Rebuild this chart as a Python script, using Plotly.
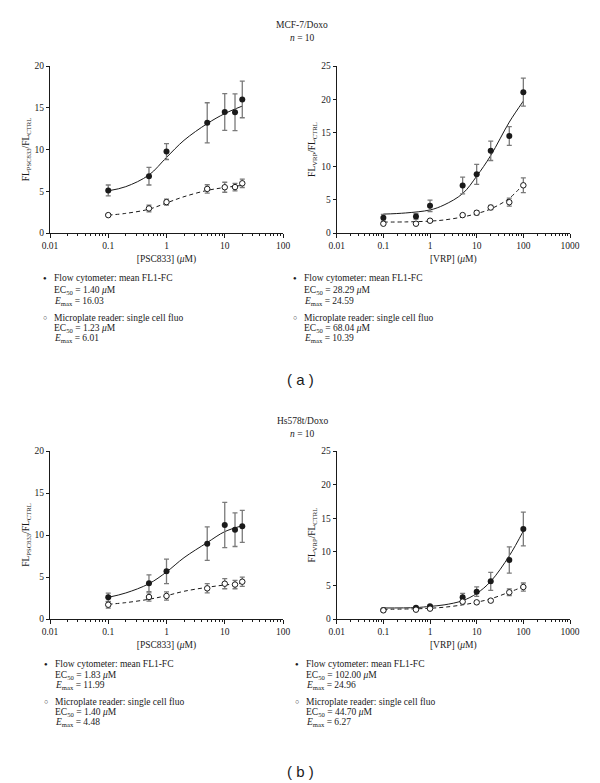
import plotly.graph_objects as go

W, H = 600, 783

# ---------------- data ----------------
psc_x = [0.1, 0.5, 1, 5, 10, 15, 20]
vrp_x = [0.1, 0.5, 1, 5, 10, 20, 50, 100]

# (a) MCF-7/Doxo, PSC833
a_psc_flow = [5.1, 6.8, 9.75, 13.2, 14.5, 14.45, 16.0]
a_psc_flow_err = [0.65, 1.05, 0.95, 2.4, 2.2, 2.2, 2.2]
a_psc_plate = [2.14, 2.94, 3.7, 5.28, 5.48, 5.5, 5.95]
a_psc_plate_err = [0.12, 0.4, 0.35, 0.5, 0.6, 0.45, 0.5]
a_psc_fit_x = [0.1, 0.2, 0.5, 1, 2, 5, 10, 20]
a_psc_flow_fit = [5.05, 5.55, 6.95, 9.05, 11.1, 13.1, 14.3, 15.2]
a_psc_plate_fit = [2.14, 2.35, 2.85, 3.6, 4.35, 5.1, 5.45, 5.7]

# (a) MCF-7/Doxo, VRP
a_vrp_flow = [2.28, 2.48, 4.07, 7.1, 8.78, 12.3, 14.53, 21.08]
a_vrp_flow_err = [0.5, 0.4, 0.85, 1.25, 1.5, 1.45, 1.4, 2.1]
a_vrp_plate = [1.39, 1.39, 1.84, 2.68, 3.03, 3.82, 4.61, 7.14]
a_vrp_plate_err = [0.1, 0.1, 0.15, 0.2, 0.3, 0.3, 0.6, 1.1]
a_vrp_fit_x = [0.1, 0.3, 1, 2, 5, 10, 20, 50, 100]
a_vrp_flow_fit = [2.83, 3.0, 3.45, 4.2, 5.9, 8.5, 11.6, 16.6, 19.75]
a_vrp_plate_fit = [1.64, 1.66, 1.78, 1.95, 2.4, 2.9, 3.6, 5.2, 7.3]

# (b) Hs578t/Doxo, PSC833
b_psc_flow = [2.58, 4.25, 5.67, 8.97, 11.19, 10.63, 11.03]
b_psc_flow_err = [0.5, 1.0, 1.45, 2.0, 2.7, 2.0, 1.9]
b_psc_plate = [1.7, 2.62, 2.74, 3.65, 4.2, 4.1, 4.44]
b_psc_plate_err = [0.4, 0.5, 0.5, 0.55, 0.6, 0.5, 0.55]
b_psc_fit_x = [0.1, 0.2, 0.5, 1, 2, 5, 10, 20]
b_psc_flow_fit = [2.58, 3.1, 4.2, 5.6, 7.3, 9.1, 10.4, 11.1]
b_psc_plate_fit = [1.75, 1.95, 2.35, 2.78, 3.3, 3.77, 4.05, 4.25]

# (b) Hs578t/Doxo, VRP
b_vrp_flow = [1.35, 1.69, 1.88, 3.22, 4.07, 5.6, 8.78, 13.39]
b_vrp_flow_err = [0.1, 0.15, 0.15, 0.6, 0.7, 1.35, 1.95, 2.5]
b_vrp_plate = [1.29, 1.39, 1.54, 2.58, 2.48, 2.73, 3.97, 4.76]
b_vrp_plate_err = [0.1, 0.1, 0.15, 0.3, 0.2, 0.2, 0.5, 0.6]
b_vrp_fit_x = [0.1, 0.5, 1, 2, 5, 10, 20, 50, 100]
b_vrp_flow_fit = [1.64, 1.7, 1.88, 2.1, 2.73, 3.8, 5.6, 9.4, 13.1]
b_vrp_plate_fit = [1.44, 1.52, 1.6, 1.75, 2.1, 2.5, 3.0, 4.0, 4.8]

legend_a_left = ["Flow cytometer: mean FL1-FC", "EC<sub>50</sub> = 1.40 <i>μ</i>M", "<i>E</i><sub>max</sub> = 16.03",
                 "Microplate reader: single cell fluo", "EC<sub>50</sub> = 1.23 <i>μ</i>M", "<i>E</i><sub>max</sub> = 6.01"]
legend_a_right = ["Flow cytometer: mean FL1-FC", "EC<sub>50</sub> = 28.29 <i>μ</i>M", "<i>E</i><sub>max</sub> = 24.59",
                  "Microplate reader: single cell fluo", "EC<sub>50</sub> = 68.04 <i>μ</i>M", "<i>E</i><sub>max</sub> = 10.39"]
legend_b_left = ["Flow cytometer: mean FL1-FC", "EC<sub>50</sub> = 1.83 <i>μ</i>M", "<i>E</i><sub>max</sub> = 11.99",
                 "Microplate reader: single cell fluo", "EC<sub>50</sub> = 1.40 <i>μ</i>M", "<i>E</i><sub>max</sub> = 4.48"]
legend_b_right = ["Flow cytometer: mean FL1-FC", "EC<sub>50</sub> = 102.00 <i>μ</i>M", "<i>E</i><sub>max</sub> = 24.96",
                  "Microplate reader: single cell fluo", "EC<sub>50</sub> = 44.70 <i>μ</i>M", "<i>E</i><sub>max</sub> = 6.27"]

# ---------------- figure ----------------
SERIF = "Liberation Serif, Times New Roman, serif"
INK = "#1a1a1a"
ERR = "#7a7a7a"

fig = go.Figure()

def px_x(p):
    return p / W

def px_y(p):
    return 1 - p / H

panels = [
    dict(ax="", x=psc_x, fx=a_psc_fit_x, f=a_psc_flow, fe=a_psc_flow_err, p=a_psc_plate, pe=a_psc_plate_err,
         ff=a_psc_flow_fit, pf=a_psc_plate_fit),
    dict(ax="2", x=vrp_x, fx=a_vrp_fit_x, f=a_vrp_flow, fe=a_vrp_flow_err, p=a_vrp_plate, pe=a_vrp_plate_err,
         ff=a_vrp_flow_fit, pf=a_vrp_plate_fit),
    dict(ax="3", x=psc_x, fx=b_psc_fit_x, f=b_psc_flow, fe=b_psc_flow_err, p=b_psc_plate, pe=b_psc_plate_err,
         ff=b_psc_flow_fit, pf=b_psc_plate_fit),
    dict(ax="4", x=vrp_x, fx=b_vrp_fit_x, f=b_vrp_flow, fe=b_vrp_flow_err, p=b_vrp_plate, pe=b_vrp_plate_err,
         ff=b_vrp_flow_fit, pf=b_vrp_plate_fit),
]

for pn in panels:
    xa = "x" + pn["ax"]
    ya = "y" + pn["ax"]
    fig.add_trace(go.Scatter(x=pn["fx"], y=pn["pf"], mode="lines", xaxis=xa, yaxis=ya,
                             line=dict(color=INK, width=1, dash="4px,3px", shape="spline"), hoverinfo="skip"))
    fig.add_trace(go.Scatter(x=pn["fx"], y=pn["ff"], mode="lines", xaxis=xa, yaxis=ya,
                             line=dict(color=INK, width=1, shape="spline"), hoverinfo="skip"))
    fig.add_trace(go.Scatter(x=pn["x"], y=pn["f"], mode="markers", xaxis=xa, yaxis=ya,
                             error_y=dict(type="data", array=pn["fe"], color=ERR, thickness=1.3, width=2.5),
                             marker=dict(color=INK, size=6, symbol="circle")))
    fig.add_trace(go.Scatter(x=pn["x"], y=pn["p"], mode="markers", xaxis=xa, yaxis=ya,
                             error_y=dict(type="data", array=pn["pe"], color=ERR, thickness=1.3, width=2.5),
                             marker=dict(color="white", size=5.5, symbol="circle", line=dict(color=INK, width=1))))

top_y = [px_y(233), px_y(66)]
bot_y = [px_y(619), px_y(451)]
left_x = [px_x(50), px_x(283)]
right_x = [px_x(336.7), px_x(570)]

tickfont = dict(family=SERIF, size=9.5, color=INK)

def xaxis(domain, anchor, rng, title):
    return dict(domain=domain, anchor=anchor, type="log", range=rng, dtick=1, automargin=False,
                showline=True, linecolor=INK, linewidth=1, ticks="outside", ticklen=4, tickcolor=INK,
                minor=dict(ticks="outside", ticklen=2, tickcolor=INK, dtick="D1", showgrid=False),
                showgrid=False, zeroline=False, tickfont=tickfont,
                title=dict(text=title, font=dict(family=SERIF, size=9.5, color=INK), standoff=4))

def yaxis(domain, anchor, rng, title):
    return dict(domain=domain, anchor=anchor, range=rng, dtick=5, tick0=0, automargin=False,
                showline=True, linecolor=INK, linewidth=1, ticks="outside", ticklen=3, tickcolor=INK,
                showgrid=False, zeroline=False, tickfont=tickfont,
                title=dict(text=title, font=dict(family=SERIF, size=9.5, color=INK), standoff=3))

psc_xt = "[PSC833] (<i>μ</i>M)"
vrp_xt = "[VRP] (<i>μ</i>M)"
psc_yt = "FL<sub>PSC833</sub>/FL<sub>CTRL</sub>"
vrp_yt = "FL<sub>VRP</sub>/FL<sub>CTRL</sub>"

fig.update_layout(
    width=W, height=H, margin=dict(l=0, r=0, t=0, b=0, autoexpand=False),
    paper_bgcolor="white", plot_bgcolor="white", showlegend=False,
    xaxis=xaxis(left_x, "y", [-2, 2], psc_xt),
    yaxis=yaxis(top_y, "x", [0, 20], psc_yt),
    xaxis2=xaxis(right_x, "y2", [-2, 3], vrp_xt),
    yaxis2=yaxis(top_y, "x2", [0, 25], vrp_yt),
    xaxis3=xaxis(left_x, "y3", [-2, 2], psc_xt),
    yaxis3=yaxis(bot_y, "x3", [0, 20], psc_yt),
    xaxis4=xaxis(right_x, "y4", [-2, 3], vrp_xt),
    yaxis4=yaxis(bot_y, "x4", [0, 25], vrp_yt),
)

ann = []

def text(x, y, s, size=9.5, xanchor="left", family=SERIF):
    ann.append(dict(x=px_x(x), y=px_y(y), xref="paper", yref="paper", text=s, showarrow=False,
                    xanchor=xanchor, yanchor="middle", font=dict(family=family, size=size, color=INK)))

# titles
text(302, 25, "MCF-7/Doxo", size=9.5, xanchor="center")
text(302, 38, "<i>n</i> = 10", size=9.5, xanchor="center")
text(302, 421, "Hs578t/Doxo", size=9.5, xanchor="center")
text(302, 434, "<i>n</i> = 10", size=9.5, xanchor="center")

def legend(lines, bx, tx, ys):
    text(bx, ys[0], "●", size=6, xanchor="center")
    text(bx, ys[3], "○", size=7, xanchor="center")
    for s, y in zip(lines, ys):
        text(tx, y, s)

ys_a = [278, 290, 301.5, 318, 328.5, 338.5]
ys_b = [664, 675, 685, 702, 712.5, 722.5]
legend(legend_a_left, 45, 52, ys_a)
legend(legend_a_right, 295, 302, ys_a)
legend(legend_b_left, 46, 53, ys_b)
legend(legend_b_right, 297, 304, ys_b)

text(300, 379, "( a )", size=15, xanchor="center", family="Arial, Liberation Sans, sans-serif")
text(300, 771, "( b )", size=15, xanchor="center", family="Arial, Liberation Sans, sans-serif")

fig.update_layout(annotations=ann)
fig.write_html("out.html", config={"displayModeBar": False},
               post_script="document.body.style.margin='0';document.body.style.overflow='hidden';")
